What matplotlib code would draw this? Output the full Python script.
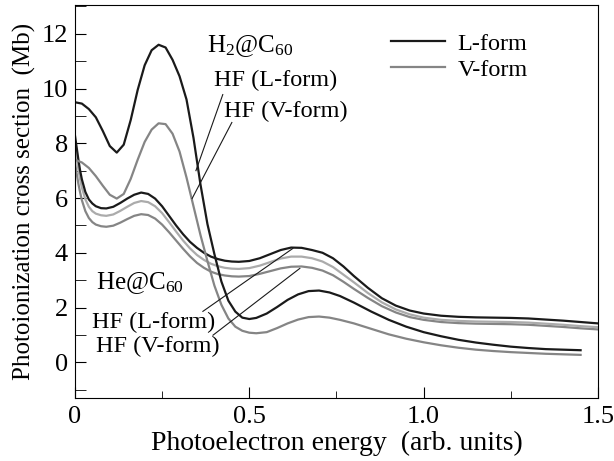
import matplotlib
matplotlib.use("Agg")
import matplotlib.pyplot as plt
from matplotlib.ticker import MultipleLocator

plt.rcParams['font.family'] = ['Liberation Serif', 'DejaVu Serif']
plt.rcParams['mathtext.fontset'] = 'custom'
plt.rcParams['mathtext.rm'] = 'Liberation Serif'
plt.rcParams['mathtext.it'] = 'Liberation Serif:italic'

# H2@C60 curves
x_h2 = [0.00, 0.02, 0.04, 0.06, 0.08, 0.10, 0.12, 0.14, 0.16, 0.18, 0.20,
        0.22, 0.24, 0.26, 0.28, 0.30, 0.32, 0.34, 0.36, 0.38, 0.40, 0.42,
        0.44, 0.46, 0.48, 0.50, 0.52, 0.55, 0.58, 0.61, 0.64, 0.67, 0.70,
        0.73, 0.76, 0.80, 0.85, 0.90, 0.95, 1.00, 1.05, 1.10, 1.15, 1.20,
        1.25, 1.30, 1.35, 1.40, 1.45]
h2_L = [9.50, 9.45, 9.25, 8.95, 8.45, 7.90, 7.66, 7.95, 8.85, 9.95, 10.85,
        11.40, 11.60, 11.50, 11.05, 10.45, 9.60, 8.20, 6.50, 5.05, 3.95, 2.95,
        2.25, 1.85, 1.63, 1.58, 1.62, 1.78, 2.02, 2.28, 2.48, 2.60, 2.62,
        2.55, 2.42, 2.18, 1.85, 1.55, 1.30, 1.10, 0.95, 0.82, 0.72, 0.64,
        0.57, 0.52, 0.48, 0.46, 0.44]
h2_V = [7.40, 7.30, 7.10, 6.80, 6.45, 6.12, 5.98, 6.15, 6.70, 7.40, 8.05,
        8.50, 8.73, 8.70, 8.35, 7.70, 6.75, 5.70, 4.65, 3.70, 2.80, 2.10,
        1.60, 1.30, 1.15, 1.08, 1.06, 1.10, 1.25, 1.42, 1.56, 1.65, 1.67,
        1.63, 1.55, 1.42, 1.22, 1.02, 0.86, 0.73, 0.62, 0.53, 0.46, 0.41,
        0.37, 0.34, 0.31, 0.29, 0.27]

# He@C60 curves
x_he = [0.000, 0.005, 0.010, 0.015, 0.020, 0.030, 0.040, 0.050, 0.060, 0.075,
        0.090, 0.110, 0.130, 0.150, 0.170, 0.190, 0.210, 0.230, 0.250, 0.270,
        0.290, 0.310, 0.330, 0.350, 0.370, 0.390, 0.410, 0.430, 0.450, 0.470,
        0.500, 0.530, 0.560, 0.590, 0.620, 0.650, 0.680, 0.710, 0.740, 0.770,
        0.800, 0.840, 0.880, 0.920, 0.960, 1.000, 1.050, 1.100, 1.150, 1.200,
        1.250, 1.300, 1.350, 1.400, 1.450, 1.500]
he_L = [8.30, 7.85, 7.40, 7.00, 6.68, 6.22, 5.95, 5.80, 5.70, 5.63,
        5.62, 5.68, 5.82, 5.98, 6.12, 6.20, 6.15, 5.98, 5.70, 5.35,
        5.00, 4.68, 4.40, 4.18, 4.00, 3.86, 3.77, 3.71, 3.68, 3.67,
        3.70, 3.80, 3.95, 4.10, 4.19, 4.18, 4.10, 4.00, 3.80, 3.50,
        3.15, 2.72, 2.34, 2.07, 1.89, 1.78, 1.70, 1.66, 1.64, 1.63,
        1.62, 1.60, 1.56, 1.52, 1.47, 1.42]
he_V1 = [7.90, 7.45, 7.05, 6.68, 6.38, 5.95, 5.68, 5.52, 5.43, 5.37,
         5.35, 5.40, 5.53, 5.68, 5.82, 5.89, 5.85, 5.70, 5.45, 5.12,
         4.78, 4.45, 4.16, 3.92, 3.74, 3.60, 3.51, 3.45, 3.42, 3.41,
         3.44, 3.53, 3.66, 3.79, 3.86, 3.86, 3.80, 3.68, 3.48, 3.20,
         2.92, 2.53, 2.19, 1.93, 1.75, 1.63, 1.55, 1.51, 1.49, 1.48,
         1.47, 1.45, 1.41, 1.37, 1.32, 1.28]
he_V2 = [7.30, 6.90, 6.52, 6.20, 5.92, 5.52, 5.27, 5.12, 5.03, 4.97,
         4.95, 4.99, 5.10, 5.23, 5.35, 5.41, 5.38, 5.25, 5.03, 4.75,
         4.45, 4.15, 3.87, 3.63, 3.45, 3.31, 3.22, 3.17, 3.14, 3.13,
         3.15, 3.23, 3.33, 3.43, 3.49, 3.50, 3.45, 3.35, 3.18, 2.94,
         2.68, 2.35, 2.05, 1.82, 1.65, 1.55, 1.47, 1.43, 1.41, 1.40,
         1.39, 1.37, 1.33, 1.29, 1.24, 1.20]

black = '#1a1a1a'
gray = '#858585'
lgray = '#ababab'

fig = plt.figure(figsize=(6.14, 4.61), dpi=100)
ax = fig.add_axes([0.122, 0.137, 0.852, 0.852])

ax.plot(x_he, he_V2, color=gray, lw=1.6)
ax.plot(x_he, he_V1, color=lgray, lw=1.6)
ax.plot(x_he, he_L, color=black, lw=1.6)
ax.plot(x_h2, h2_V, color=gray, lw=1.6)
ax.plot(x_h2, h2_L, color=black, lw=1.6)

# legend
lL, = ax.plot([], [], color=black, lw=1.6, label='L-form')
lV, = ax.plot([], [], color=gray, lw=1.6, label='V-form')
ax.legend(handles=[lL, lV], loc='upper left', bbox_to_anchor=(0.562, 0.985),
          frameon=False, fontsize=17.5, handlelength=2.25, handletextpad=0.5,
          labelspacing=0.15)

# labels
fs = 17.5
ax.text(0.379, 11.57, r'H$_2$@C$_{60}$', fontsize=18, ha='left', va='center')
ax.text(0.399, 10.3, 'HF (L-form)', fontsize=fs, ha='left', va='center')
ax.text(0.427, 9.16, 'HF (V-form)', fontsize=fs, ha='left', va='center')
ax.plot([0.424, 0.347], [9.78, 7.0], color=black, lw=0.8)
ax.plot([0.45, 0.336], [8.76, 5.98], color=black, lw=0.8)

ax.text(0.06, 2.88, r'He@C$_{60}$', fontsize=18, ha='left', va='center')
ax.text(0.049, 1.46, 'HF (L-form)', fontsize=fs, ha='left', va='center')
ax.text(0.06, 0.58, 'HF (V-form)', fontsize=fs, ha='left', va='center')
ax.plot([0.367, 0.625], [1.86, 4.16], color=black, lw=0.8)
ax.plot([0.396, 0.645], [0.99, 3.43], color=black, lw=0.8)

ax.set_xlim(0, 1.5)
ax.set_ylim(-1.3, 13.05)
ax.set_xticks([0, 0.5, 1.0, 1.5])
ax.set_xticklabels(['0', '0.5', '1.0', '1.5'])
ax.xaxis.set_minor_locator(MultipleLocator(0.25))
ax.set_yticks([0, 2, 4, 6, 8, 10, 12])
ax.yaxis.set_minor_locator(MultipleLocator(1))
ax.tick_params(axis='both', which='both', direction='in', labelsize=19,
               top=False, right=False)
ax.tick_params(axis='x', which='major', length=8, pad=6)
ax.tick_params(axis='x', which='minor', length=5)
ax.tick_params(axis='y', which='both', length=8, pad=5)

ax.set_xlabel('Photoelectron energy  (arb. units)', fontsize=20, labelpad=2)
ax.set_ylabel('Photoionization cross section  (Mb)', fontsize=18, labelpad=4)

fig.savefig('out.png', dpi=100)
